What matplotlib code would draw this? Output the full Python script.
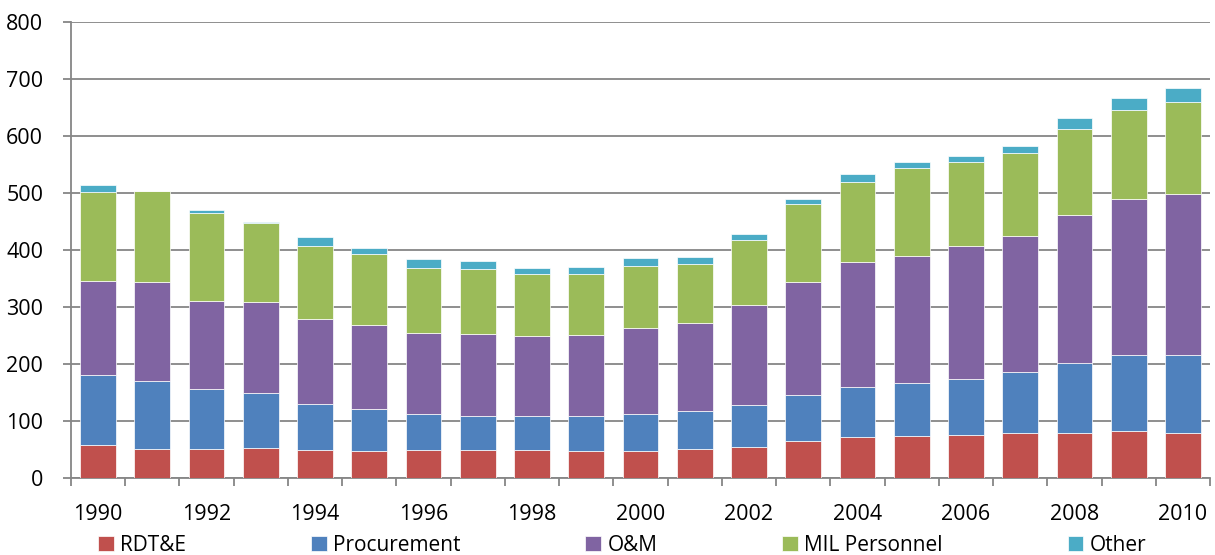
import matplotlib
matplotlib.use("Agg")
import matplotlib.pyplot as plt
import numpy as np

years = list(range(1990, 2011))
rdte = [57, 50, 50, 52, 48, 46, 48, 48, 48, 47, 46, 50, 53, 64, 71, 74, 75, 78, 78, 82, 78]
procurement = [123, 119, 106, 96, 82, 74, 63, 61, 61, 61, 65, 67, 75, 81, 89, 93, 99, 107, 124, 134, 137]
om = [165, 174, 155, 160, 148, 148, 143, 143, 140, 143, 152, 154, 176, 199, 218, 223, 233, 240, 259, 273, 283]
mil_personnel = [156, 161, 153, 139, 129, 124, 114, 114, 109, 106, 109, 105, 114, 136, 141, 153, 148, 145, 152, 156, 161]
other = [12, 0, 6, 2, 16, 11, 16, 15, 10, 12, 13, 11, 10, 9, 14, 12, 10, 12, 19, 21, 25]

series = [
    ("RDT&E", rdte, "#C0504D"),
    ("Procurement", procurement, "#4F81BD"),
    ("O&M", om, "#8064A2"),
    ("MIL Personnel", mil_personnel, "#9BBB59"),
    ("Other", other, "#4BACC6"),
]

plt.rcParams["font.family"] = ["Open Sans", "DejaVu Sans"]
grey = "#868686"

fig = plt.figure(figsize=(12.15, 5.55), dpi=100)
ax = fig.add_axes([0.0584, 0.1393, 0.9375, 0.8211])

x = np.arange(len(years))
bottom = np.zeros(len(years))
for label, values, color in series:
    ax.bar(x, values, width=0.66, bottom=bottom, color=color, label=label,
           edgecolor="white", linewidth=0.5, zorder=3)
    bottom += np.array(values)

ax.set_xlim(-0.5, len(years) - 0.5)
ax.set_ylim(0, 800)
ax.set_yticks(range(0, 801, 100))
ax.grid(axis="y", color=grey, linewidth=1.3, zorder=0)

ax.set_xticks(x[::2])
ax.set_xticklabels([str(y) for y in years[::2]])
ax.set_xticks(np.arange(-0.5, len(years)), minor=True)
ax.tick_params(axis="x", which="major", length=0, pad=19, labelsize=15.5)
ax.tick_params(axis="x", which="minor", length=6, width=1.3, color=grey, direction="out")
ax.tick_params(axis="y", length=6, width=1.3, color=grey, pad=14, labelsize=15.5)

for side in ("top", "right"):
    ax.spines[side].set_visible(False)
for side in ("left", "bottom"):
    ax.spines[side].set_color(grey)
    ax.spines[side].set_linewidth(1.3)
ax.set_axisbelow(True)

fig.legend(loc="center", bbox_to_anchor=(0.512, 0.018), ncol=5, frameon=False,
           fontsize=15, handlelength=0.75, handleheight=0.75, handletextpad=0.3,
           columnspacing=6.0, borderpad=0)

fig.savefig("out.png", dpi=100)
